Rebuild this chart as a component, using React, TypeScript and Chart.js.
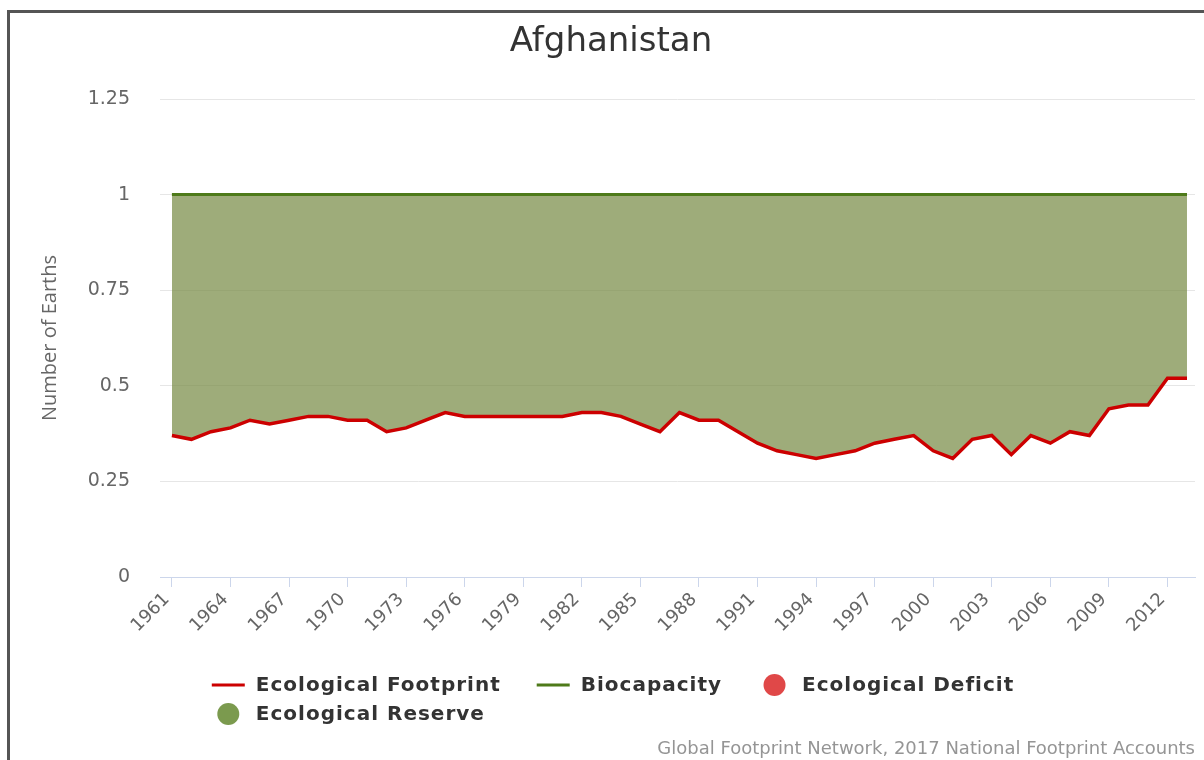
import React, { useEffect, useRef } from 'react';
import { Chart, registerables } from 'chart.js';

Chart.register(...registerables);

// ---------- data ----------
const years = [
  1961, 1962, 1963, 1964, 1965, 1966, 1967, 1968, 1969, 1970,
  1971, 1972, 1973, 1974, 1975, 1976, 1977, 1978, 1979, 1980,
  1981, 1982, 1983, 1984, 1985, 1986, 1987, 1988, 1989, 1990,
  1991, 1992, 1993, 1994, 1995, 1996, 1997, 1998, 1999, 2000,
  2001, 2002, 2003, 2004, 2005, 2006, 2007, 2008, 2009, 2010,
  2011, 2012, 2013,
];

const ecologicalFootprint = [
  0.37, 0.36, 0.38, 0.39, 0.41, 0.40, 0.41, 0.42, 0.42, 0.41,
  0.41, 0.38, 0.39, 0.41, 0.43, 0.42, 0.42, 0.42, 0.42, 0.42,
  0.42, 0.43, 0.43, 0.42, 0.40, 0.38, 0.43, 0.41, 0.41, 0.38,
  0.35, 0.33, 0.32, 0.31, 0.32, 0.33, 0.35, 0.36, 0.37, 0.33,
  0.31, 0.36, 0.37, 0.32, 0.37, 0.35, 0.38, 0.37, 0.44, 0.45,
  0.45, 0.52, 0.52,
];

const biocapacity = [
  1, 1, 1, 1, 1, 1, 1, 1, 1, 1,
  1, 1, 1, 1, 1, 1, 1, 1, 1, 1,
  1, 1, 1, 1, 1, 1, 1, 1, 1, 1,
  1, 1, 1, 1, 1, 1, 1, 1, 1, 1,
  1, 1, 1, 1, 1, 1, 1, 1, 1, 1,
  1, 1, 1,
];

const xTickYears = [
  1961, 1964, 1967, 1970, 1973, 1976, 1979, 1982, 1985,
  1988, 1991, 1994, 1997, 2000, 2003, 2006, 2009, 2012,
];

const yTickValues = [0, 0.25, 0.5, 0.75, 1, 1.25];
const yTickLabels = ['0', '0.25', '0.5', '0.75', '1', '1.25'];

const seriesNames = ['Ecological Footprint', 'Biocapacity'];
const areaNames = ['Ecological Deficit', 'Ecological Reserve'];

const titleText = 'Afghanistan';
const yAxisTitle = 'Number of Earths';
const creditsText = 'Global Footprint Network, 2017 National Footprint Accounts';

// ---------- styles ----------
const COLORS = {
  footprint: '#cc0000',
  biocapacity: '#4e7a1a',
  deficitDot: '#e04848',
  reserveDot: '#7b9a4e',
  deficitFill: 'rgba(214, 60, 60, 0.7)',
  reserveFill: 'rgba(120, 140, 70, 0.72)',
};
const FONT = '"DejaVu Sans", "Lucida Grande", sans-serif';

const customLegend = {
  id: 'customLegend',
  afterDraw(chart: any) {
    const { ctx, chartArea } = chart;
    const items = [
      { label: seriesNames[0], kind: 'line', color: COLORS.footprint },
      { label: seriesNames[1], kind: 'line', color: COLORS.biocapacity },
      { label: areaNames[0], kind: 'dot', color: COLORS.deficitDot },
      { label: areaNames[1], kind: 'dot', color: COLORS.reserveDot },
    ];
    const symW = 33;
    const gap = 11;
    const spacing = 36;
    const maxRow = 900;
    ctx.save();
    ctx.font = `bold 20px ${FONT}`;
    (ctx as any).letterSpacing = '1px';
    const rows: any[][] = [[]];
    let rowW = 0;
    items.forEach((it) => {
      const w = symW + gap + ctx.measureText(it.label).width;
      const add = rows[rows.length - 1].length ? spacing + w : w;
      if (rowW + add > maxRow && rows[rows.length - 1].length) {
        rows.push([]);
        rowW = w;
      } else {
        rowW += add;
      }
      rows[rows.length - 1].push({ ...it, w });
    });
    const rowWidths = rows.map((r) => r.reduce((s, it, i) => s + it.w + (i ? spacing : 0), 0));
    const boxW = Math.max(...rowWidths);
    const center = 613;
    const startX = center - boxW / 2;
    const y0 = chartArea.bottom + 108;
    const rowH = 29;
    rows.forEach((r, ri) => {
      let x = startX;
      const y = y0 + ri * rowH;
      r.forEach((it) => {
        if (it.kind === 'line') {
          ctx.strokeStyle = it.color;
          ctx.lineWidth = 3;
          ctx.beginPath();
          ctx.moveTo(x, y);
          ctx.lineTo(x + symW, y);
          ctx.stroke();
        } else {
          ctx.fillStyle = it.color;
          ctx.beginPath();
          ctx.arc(x + symW / 2, y, 11, 0, Math.PI * 2);
          ctx.fill();
        }
        ctx.fillStyle = '#333333';
        ctx.textAlign = 'left';
        ctx.textBaseline = 'middle';
        ctx.fillText(it.label, x + symW + gap, y + 1);
        x += it.w + spacing;
      });
    });
    ctx.restore();
  },
};

export default function App() {
  const canvasRef = useRef<HTMLCanvasElement | null>(null);

  useEffect(() => {
    const canvas = canvasRef.current;
    if (!canvas) return;
    const chart = new Chart(canvas, {
      type: 'line',
      data: {
        datasets: [
          {
            label: seriesNames[0],
            data: years.map((yr, i) => ({ x: yr, y: ecologicalFootprint[i] })),
            borderColor: COLORS.footprint,
            backgroundColor: COLORS.footprint,
            borderWidth: 3.5,
            pointRadius: 0,
            tension: 0,
            fill: { target: '+1', above: COLORS.deficitFill, below: COLORS.reserveFill },
          },
          {
            label: seriesNames[1],
            data: years.map((yr, i) => ({ x: yr, y: biocapacity[i] })),
            borderColor: COLORS.biocapacity,
            backgroundColor: COLORS.biocapacity,
            borderWidth: 3,
            pointRadius: 0,
            tension: 0,
            fill: false,
          },
        ],
      },
      options: {
        responsive: false,
        animation: false,
        events: [],
        layout: { padding: { left: 27, right: 9, top: 0, bottom: 0 } },
        scales: {
          x: {
            type: 'linear',
            min: 1960.39,
            max: 2013.41,
            afterBuildTicks: (s: any) => {
              s.ticks = xTickYears.map((v) => ({ value: v }));
            },
            afterFit: (s: any) => {
              s.height = 161.4;
            },
            ticks: {
              autoSkip: false,
              minRotation: 45,
              maxRotation: 45,
              padding: 2,
              labelOffset: -5,
              color: '#666666',
              font: { family: FONT, size: 18 },
              callback: (v: any) => String(v),
            },
            grid: {
              drawOnChartArea: false,
              drawTicks: true,
              tickLength: 10,
              color: '#ccd6eb',
              lineWidth: 1,
            },
            border: { color: '#ccd6eb', width: 1 },
          },
          y: {
            min: 0,
            max: 1.25,
            afterBuildTicks: (s: any) => {
              s.ticks = yTickValues.map((v) => ({ value: v }));
            },
            afterFit: (s: any) => {
              s.width = 133;
            },
            ticks: {
              padding: 30,
              color: '#666666',
              font: { family: FONT, size: 19 },
              callback: (_v: any, i: number) => yTickLabels[i],
            },
            grid: { color: '#e6e6e6', lineWidth: 1, drawTicks: false },
            border: { display: false },
            title: {
              display: true,
              text: yAxisTitle,
              color: '#666666',
              font: { family: '"Open Sans", sans-serif', size: 20 },
              padding: { top: 11, bottom: 0 },
            },
          },
        },
        plugins: {
          legend: { display: false },
          tooltip: { enabled: false },
          filler: { drawTime: 'beforeDatasetsDraw' },
          title: {
            display: true,
            text: titleText,
            color: '#333333',
            font: { family: FONT, size: 34, weight: 'normal' },
            padding: { top: 22, bottom: 36.2 },
          },
          subtitle: {
            display: true,
            text: creditsText,
            position: 'bottom',
            align: 'end',
            color: '#959595',
            font: { family: FONT, size: 18, weight: 'normal' },
            padding: { top: 0, bottom: 0 },
          },
        },
      } as any,
      plugins: [customLegend],
    });
    return () => chart.destroy();
  }, []);

  return (
    <div style={{ position: 'fixed', left: 0, top: 0, width: 1204, height: 760, background: '#ffffff', overflow: 'hidden' }}>
      <div
        style={{
          position: 'absolute',
          left: 7,
          top: 10,
          width: 1210,
          height: 760,
          borderTop: '3px solid #555555',
          borderLeft: '3px solid #555555',
        }}
      />
      <canvas
        ref={canvasRef}
        width={1204}
        height={760}
        style={{ position: 'absolute', left: 0, top: 0, width: 1204, height: 760 }}
      />
    </div>
  );
}
